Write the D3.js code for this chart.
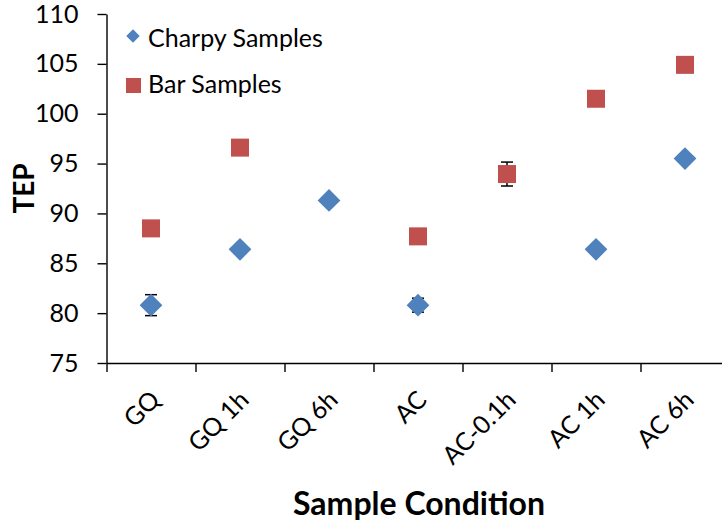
<!DOCTYPE html>
<html>
<head>
<meta charset="utf-8">
<script src="https://cdn.jsdelivr.net/npm/d3@7"></script>
<style>
  body { margin: 0; background: #fff; }
  text { font-family: Lato, "Open Sans", sans-serif; fill: #000; }
</style>
</head>
<body>
<div id="chart"></div>
<script>
// sample conditions along the bottom
var conditions = ["GQ", "GQ 1h", "GQ 6h", "AC", "AC-0.1h", "AC 1h", "AC 6h"];

// TEP values (null = not measured)
var charpyTEP = [80.8, 86.4, 91.3, 80.8, null, 86.4, 95.5];
var charpyErr = [1.05, 0.4, 0.3, 0.7, null, 0.4, 0.4];
var barTEP = [88.5, 96.6, null, 87.7, 93.95, 101.5, 104.9];
var barErr = [0.2, 0.2, null, 0.2, 1.2, 0.3, 0.2];

var yTicks = [75, 80, 85, 90, 95, 100, 105, 110];

var w = 722, h = 525;
var plotLeft = 106.5, plotTop = 14, plotBottom = 363;
var step = 89; // width of each category slot

var svg = d3.select("#chart").append("svg")
  .attr("width", w)
  .attr("height", h);

var y = d3.scaleLinear().domain([75, 110]).range([plotBottom, plotTop]);

var x = d3.scaleBand()
  .domain(conditions)
  .range([plotLeft, plotLeft + step * conditions.length]);

// edges of the slots, for the tick marks
var xEdge = d3.scaleLinear()
  .domain([0, conditions.length])
  .range([plotLeft, plotLeft + step * conditions.length]);

//_y axis
var yAxis = svg.append("g")
  .attr("transform", "translate(" + plotLeft + ",0)")
  .call(d3.axisLeft(y).tickValues(yTicks).tickSize(9).tickPadding(19).tickSizeOuter(0));
yAxis.selectAll("text").style("font-size", "25px");

//_x axis, ticks only
var xAxis = svg.append("g")
  .attr("transform", "translate(0," + plotBottom + ")")
  .call(d3.axisBottom(xEdge).tickValues(d3.range(0, conditions.length + 1)).tickFormat("").tickSize(9).tickSizeOuter(0));

svg.selectAll(".domain, .tick line").attr("stroke", "#000").attr("stroke-width", 1.4);

//_category labels, rotated
svg.append("g").selectAll("text")
  .data(conditions)
  .enter().append("text")
  .attr("text-anchor", "end")
  .attr("transform", function(d) {
    return "translate(" + (x(d) + x.bandwidth() / 2 - 2) + "," + (plotBottom + 26) + ") rotate(-45)";
  })
  .attr("dy", "0.7em")
  .style("font-size", "25px")
  .text(function(d) { return d; });

// axis titles
svg.append("text")
  .attr("transform", "translate(24," + ((plotTop + plotBottom) / 2) + ") rotate(-90)")
  .attr("text-anchor", "middle")
  .attr("dy", "0.35em")
  .style("font-size", "28px")
  .style("font-weight", "bold")
  .text("TEP");

svg.append("text")
  .attr("x", 419)
  .attr("y", 515)
  .attr("text-anchor", "middle")
  .style("font-size", "32px")
  .style("font-weight", "bold")
  .text("Sample Condition");

function points(vals, errs) {
  return conditions.map(function(c, i) {
    return { cond: c, v: vals[i], e: errs[i] };
  }).filter(function(d) { return d.v !== null; });
}

var charpy = points(charpyTEP, charpyErr);
var bars = points(barTEP, barErr);

//_error bars go under the markers
function errorBars(data) {
  var g = svg.append("g").attr("class", "errbars");
  data.forEach(function(d) {
    var cx = x(d.cond) + x.bandwidth() / 2;
    var y0 = y(d.v - d.e), y1 = y(d.v + d.e);
    g.append("line").attr("x1", cx).attr("x2", cx).attr("y1", y0).attr("y2", y1);
    g.append("line").attr("x1", cx - 6).attr("x2", cx + 6).attr("y1", y0).attr("y2", y0);
    g.append("line").attr("x1", cx - 6).attr("x2", cx + 6).attr("y1", y1).attr("y2", y1);
  });
  g.selectAll("line").attr("stroke", "#000").attr("stroke-width", 1.5);
}
errorBars(charpy);
errorBars(bars);

var diamond = d3.symbol().type(d3.symbolDiamond2).size(330);

svg.append("g").selectAll("path")
  .data(charpy)
  .enter().append("path")
  .attr("d", diamond)
  .attr("transform", function(d) {
    return "translate(" + (x(d.cond) + x.bandwidth() / 2) + "," + y(d.v) + ")";
  })
  .style("fill", "#4f81bd");

svg.append("g").selectAll("rect")
  .data(bars)
  .enter().append("rect")
  .attr("x", function(d) { return x(d.cond) + x.bandwidth() / 2 - 9; })
  .attr("y", function(d) { return y(d.v) - 9; })
  .attr("width", 18)
  .attr("height", 18)
  .style("fill", "#c0504d");

//_legend
var legend = svg.append("g");
legend.append("path")
  .attr("d", d3.symbol().type(d3.symbolDiamond2).size(115))
  .attr("transform", "translate(133,36)")
  .style("fill", "#4f81bd");
legend.append("text").attr("x", 148).attr("y", 47)
  .style("font-size", "25px").text("Charpy Samples");
legend.append("rect")
  .attr("x", 126).attr("y", 78).attr("width", 15).attr("height", 15)
  .style("fill", "#c0504d");
legend.append("text").attr("x", 148).attr("y", 93)
  .style("font-size", "25px").text("Bar Samples");
</script>
</body>
</html>
